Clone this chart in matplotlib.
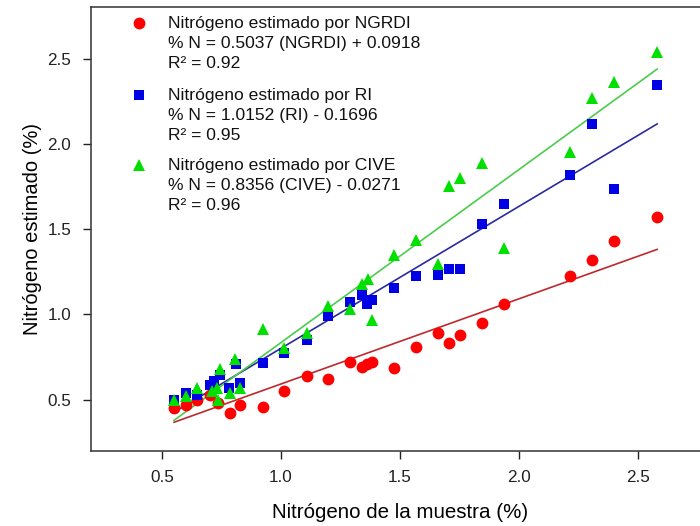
import matplotlib
matplotlib.use("Agg")
import matplotlib.pyplot as plt
import numpy as np

plt.rcParams["font.family"] = ["Liberation Sans", "DejaVu Sans"]

# Nitrógeno de la muestra (%) vs nitrógeno estimado (%)
ngrdi_x = [0.55, 0.60, 0.645, 0.70, 0.735, 0.785, 0.827, 0.923, 1.013, 1.107, 1.198,
           1.29, 1.339, 1.362, 1.383, 1.474, 1.567, 1.659, 1.705, 1.752, 1.846, 1.937,
           2.214, 2.305, 2.397, 2.58]
ngrdi_y = [0.45, 0.47, 0.50, 0.53, 0.48, 0.42, 0.47, 0.46, 0.55, 0.64, 0.62,
           0.72, 0.69, 0.71, 0.72, 0.685, 0.81, 0.89, 0.835, 0.88, 0.95, 1.06,
           1.225, 1.32, 1.43, 1.57]

ri_x = [0.55, 0.60, 0.645, 0.70, 0.72, 0.745, 0.78, 0.81, 0.827, 0.923, 1.013, 1.107,
        1.198, 1.29, 1.339, 1.362, 1.383, 1.474, 1.567, 1.659, 1.705, 1.752, 1.846,
        1.937, 2.214, 2.305, 2.397, 2.58]
ri_y = [0.50, 0.54, 0.53, 0.585, 0.61, 0.645, 0.57, 0.71, 0.60, 0.713, 0.775, 0.85,
        0.99, 1.073, 1.112, 1.064, 1.083, 1.157, 1.228, 1.233, 1.268, 1.268, 1.533,
        1.648, 1.818, 2.116, 1.734, 2.346]

cive_x = [0.55, 0.60, 0.645, 0.71, 0.73, 0.735, 0.745, 0.785, 0.806, 0.827, 0.923,
          1.013, 1.107, 1.198, 1.29, 1.339, 1.366, 1.383, 1.474, 1.567, 1.659, 1.705,
          1.752, 1.846, 1.937, 2.214, 2.305, 2.397, 2.58]
cive_y = [0.50, 0.52, 0.57, 0.55, 0.57, 0.50, 0.68, 0.54, 0.74, 0.567, 0.912,
          0.806, 0.892, 1.048, 1.03, 1.181, 1.206, 0.97, 1.347, 1.434, 1.298, 1.751,
          1.798, 1.89, 1.389, 1.95, 2.27, 2.364, 2.54]

# regression lines as drawn (slope, intercept)
fit_ngrdi = (0.499, 0.094)
fit_ri = (0.832, -0.030)
fit_cive = (1.014, -0.178)

legend_lines = [
    ["Nitrógeno estimado por NGRDI", "% N = 0.5037 (NGRDI) + 0.0918", "R² = 0.92"],
    ["Nitrógeno estimado por RI", "% N = 1.0152 (RI) - 0.1696", "R² = 0.95"],
    ["Nitrógeno estimado por CIVE", "% N = 0.8356 (CIVE) - 0.0271", "R² = 0.96"],
]

series = [
    (ngrdi_x, ngrdi_y, fit_ngrdi, "o", "#ff0000", "#c0282c", 8.5),
    (ri_x, ri_y, fit_ri, "s", "#0000e6", "#2a2aa0", 7.5),
    (cive_x, cive_y, fit_cive, "^", "#00e000", "#4ccc4c", 8.5),
]

fig = plt.figure(figsize=(7.0, 5.26), dpi=100)
ax = fig.add_axes([0.1296, 0.1426, 0.884, 0.8435])

for xs, ys, (m, b), mk, col, lcol, ms in series:
    xl = np.array([min(xs), max(xs)])
    ax.plot(xl, m * xl + b, color=lcol, lw=1.2, zorder=2)
for xs, ys, (m, b), mk, col, lcol, ms in series:
    ax.plot(xs, ys, linestyle="none", marker=mk, color=col, markersize=ms,
            markeredgewidth=0, zorder=3)

ax.set_xlim(0.2, 2.8)
ax.set_ylim(0.2, 2.8)
ax.set_xticks([0.5, 1.0, 1.5, 2.0, 2.5])
ax.set_yticks([0.5, 1.0, 1.5, 2.0, 2.5])
ax.tick_params(direction="out", length=6, width=1, colors="#222222",
               labelsize=12.3, pad=8)
for sp in ax.spines.values():
    sp.set_color("#333333")
    sp.set_linewidth(1.1)

ax.set_xlabel("Nitrógeno de la muestra (%)", fontsize=14.8, labelpad=13)
ax.set_ylabel("Nitrógeno estimado (%)", fontsize=14.5, labelpad=4)

# legend block, drawn by hand
markers = [("o", "#ff0000", 8.5), ("s", "#0000e6", 7.5), ("^", "#00e000", 8.5)]
block_top = [0.964, 0.8015, 0.6435]
for (mk, col, ms), lines, y0 in zip(markers, legend_lines, block_top):
    ax.plot([0.0775], [y0], marker=mk, color=col, markersize=ms,
            markeredgewidth=0, transform=ax.transAxes, clip_on=False)
    for i, t in enumerate(lines):
        ax.text(0.1245, y0 - i * 0.0455, t, transform=ax.transAxes,
                fontsize=12.6, va="center", ha="left", color="#111111")

fig.savefig("out.png", dpi=100)
